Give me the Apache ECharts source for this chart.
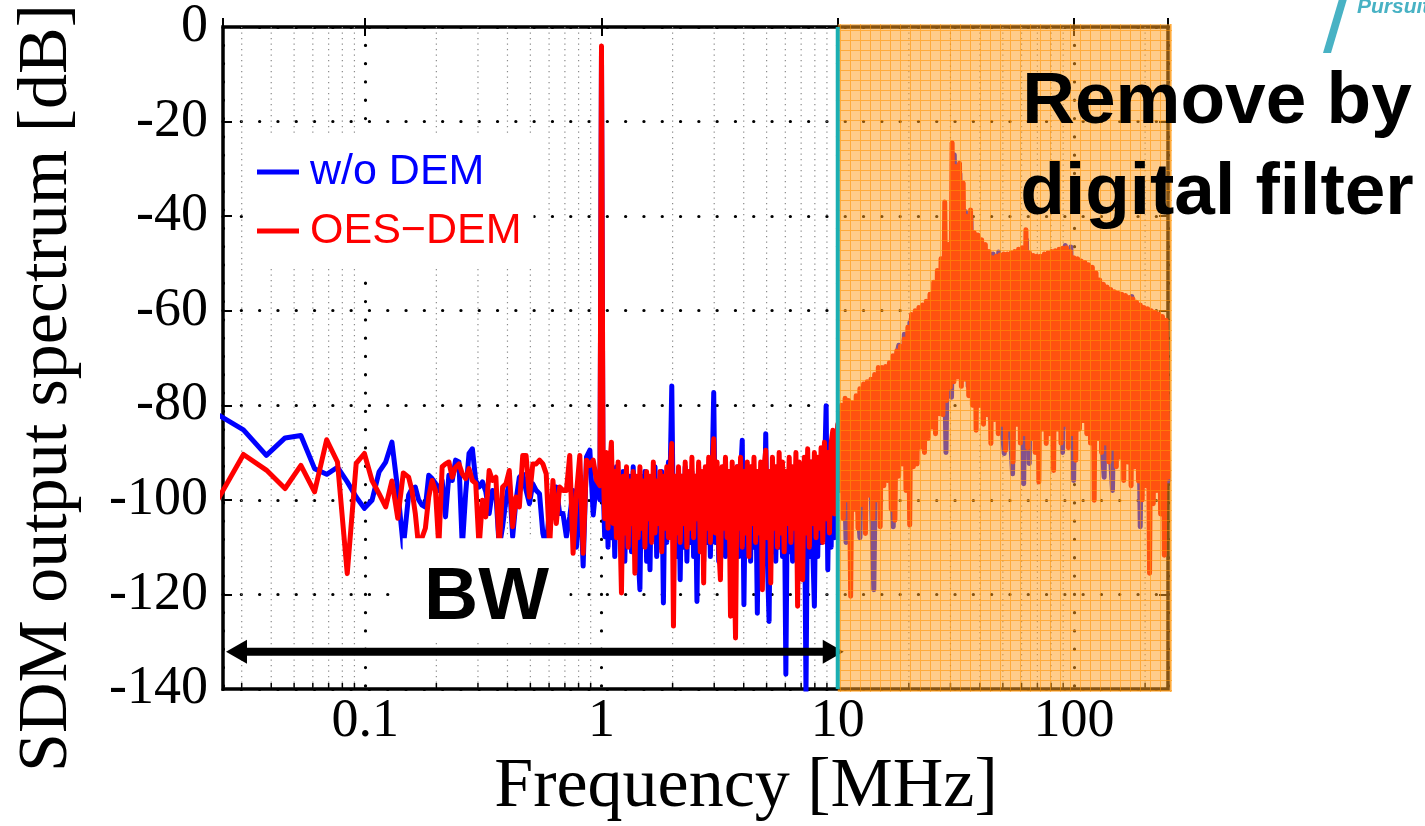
<!DOCTYPE html>
<html>
<head>
<meta charset="utf-8">
<script src="https://cdn.jsdelivr.net/npm/echarts@6/dist/echarts.min.js"></script>
<style>
html, body { margin: 0; padding: 0; background: #fff; }
#chart { width: 1425px; height: 826px; }
</style>
</head>
<body>
<div id="chart"></div>
<script>
// ---- spectrum data (dB), 500 MS/s sampling, 65536-point FFT ----
const binWidth = 500 / 65536;          // MHz per FFT bin
const firstBin = 3;

// individual low-frequency bins k = 3 .. 19
const lowBlue = [-81.5, -85.2, -90.6, -86.9, -86.4, -93.4, -94.6, -93.1, -96.2, -99.4, -101.8, -100.1, -94.1, -92.0, -87.8, -98.0, -110.0];
const lowRed  = [-101.4, -90.4, -93.7, -97.6, -92.7, -98.3, -87.3, -92.0, -115.6, -92.3, -90.2, -95.9, -98.7, -101.5, -96.0, -103.9, -94.3];

// 0.15 .. 0.985 MHz (log-spaced readout)
const midRange = [20 * binWidth, 0.985];
const midBlue = [-99, -97.6, -97.3, -100, -101.1, -101.5, -94.8, -95.5, -96.5, -98.0,
  -95.9, -103.6, -94.8, -95.9, -91.6, -92.0, -110, -98.7, -90.2, -89.2,
  -95.9, -97.3, -96.2, -98.3, -102.9, -98.0, -98.7, -110, -105.7, -100.1,
  -95.9, -107.8, -100.1, -95.2, -94.5, -98.0, -100.8, -96.6, -98.0, -98.7,
  -107.1, -110, -101.5, -102.9, -97.3, -102.9, -102.9, -107.8, -103.6, -98.0,
  -110, -95.9, -114, -90.9, -89.5, -103.2, -95.9, -100];
const midRed = [-95.2, -98.0, -102.9, -110, -108, -106, -99.4, -95.9, -98.0, -110,
  -93.0, -92.4, -92.0, -95.2, -93.1, -92.4, -94.5, -95.5, -93.4, -95.9,
  -96.5, -110, -100.1, -103.6, -93.8, -95.9, -95.2, -110, -97.3, -96.6,
  -93.8, -105.7, -99.4, -101.5, -90.6, -90.6, -99.4, -92.4, -92.4, -91.6,
  -92.4, -94.5, -110, -95.9, -105.0, -97.3, -98.0, -98.0, -90.6, -111.3,
  -98.7, -90.6, -111.3, -91.6, -92.7, -91.6, -95.9, -97];

// 1 MHz input tone
const toneFreq = 1.0;
const toneBlue = -5;
const toneRed = -4;

// in-band noise, 1.015 .. 9.85 MHz (log-spaced readout)
const bandRange = [1.015, 9.85];
const bandBlue = [
  -96, -107.8, -94, -110, -92, -108, -95, -112, -93, -106,
  -96, -110, -94, -113, -97, -108, -95, -111, -93, -109,
  -96, -112, -119, -95, -109, -94, -113, -97, -114.8, -95,
  -108, -93, -112, -96, -110, -94, -121.8, -95, -109, -92,
  -95, -75.9, -108, -96, -112, -94, -116.9, -95, -110, -93,
  -113, -96, -109, -94, -112, -95, -121.5, -93, -110, -96,
  -113, -94, -109, -95, -112, -95, -77.3, -109, -94, -113,
  -96, -110, -93, -112, -95, -109, -94, -113, -96, -110,
  -93, -112, -95, -87.4, -122.2, -94, -111, -96, -113, -93,
  -110, -95, -124, -94, -112, -96, -110, -86.0, -113, -125.7,
  -94, -111, -95, -113, -93, -110, -96, -112, -94, -136.9,
  -95, -111, -93, -113, -96, -110, -94, -112, -95, -111,
  -93, -141, -94, -112, -92, -110, -122.5, -93, -112, -91,
  -109, -92, -95, -80.1, -114.8, -90, -110, -89, -108, -86];
const bandRed = [
  -91, -104, -90, -106, -93, -87.8, -105, -94, -108, -92,
  -104, -119.7, -95, -107, -93, -110, -96, -105, -94, -115.5,
  -95, -108, -93, -106, -96, -110, -94, -104, -95, -109,
  -92, -107, -96, -105, -94, -111, -95, -106, -93, -108,
  -94, -88.1, -126.7, -95, -107, -93, -109, -95, -105, -92,
  -110, -94, -106, -91, -108, -95, -104, -92, -111, -94,
  -117.6, -93, -106, -91, -109, -94, -87.1, -107, -92, -110,
  -116.9, -93, -106, -91, -108, -94, -124.6, -92, -109, -129.2,
  -93, -106, -91, -110, -94, -107, -92, -112, -93, -105,
  -91, -109, -94, -107, -92, -119, -93, -89.5, -108, -94,
  -117.6, -91, -106, -93, -110, -90, -107, -92, -111, -94,
  -105, -91, -109, -93, -106, -90, -122.5, -92, -108, -116.9,
  -91, -107, -89.2, -110, -92, -105, -90, -108, -91, -106,
  -89, -109, -87.8, -104, -90, -107, -88, -85.3, -103, -89];

// out-of-band shaped noise, 10 .. 250 MHz (log-spaced readout)
const outRange = [10.0, 250];
const outBlue = [
  -86, -97, -81, -109, -81, -100, -81, -99, -108, -77,
  -98, -77, -97, -119, -75, -96, -73.5, -94, -73, -93,
  -105.7, -70, -67.3, -90, -65, -94, -62.5, -90, -61, -88,
  -60.5, -86, -59.5, -84, -57.5, -82, -53, -79, -50, -90,
  -47, -78.3, -27, -73, -31, -73, -39, -76, -40.5, -78,
  -45.5, -79, -46.5, -80, -48.5, -83, -48, -82, -47.6, -83,
  -90.2, -49.5, -84, -94.5, -49, -83, -48.5, -96.6, -45, -92.3,
  -50, -85, -50, -84, -49.5, -85, -49.3, -84, -49, -84,
  -48.5, -90, -46.2, -85, -46.5, -95.9, -50, -84, -51, -82,
  -51.5, -85, -52.5, -86, -54.5, -87, -95.2, -56.5, -88, -98,
  -57.5, -90, -58, -91, -58.3, -92, -57, -93, -59.5, -105.7,
  -60.5, -95, -61, -96, -61.5, -97, -62, -98, -63, -96];
const outRed = [
  -84, -98, -80, -104, -78.5, -100, -79, -120.4, -79.5, -102,
  -78, -106, -76.5, -101, -75.5, -107.1, -75, -99, -74.5, -104,
  -73.5, -100, -72, -105.7, -72, -97, -71.8, -95.9, -71, -102,
  -69.5, -104.3, -68.5, -95, -67.5, -92.4, -66, -98, -63.5, -105.3,
  -60.8, -93, -60, -92.4, -59.3, -88.8, -58.8, -90, -58, -87,
  -56.5, -84.6, -54, -86, -51.5, -81.8, -49, -82, -37, -79,
  -46, -76.2, -24.5, -75, -29.5, -74, -28.8, -76, -33, -74.5,
  -40, -78, -38.7, -80, -43.5, -85.3, -44, -80, -45, -84,
  -46, -82, -47.5, -88.1, -48.8, -83, -48.5, -86, -48.2, -84,
  -48, -89.5, -48, -85, -47.8, -92, -47.5, -84, -47, -88,
  -46.7, -86, -42.9, -89, -47.8, -87, -48.3, -90, -48.5, -96.2,
  -48.5, -85, -48, -88.1, -47.8, -86, -47.5, -93.8, -47.3, -85,
  -47, -88, -46.8, -84, -46.7, -89, -47.5, -86, -48.8, -91.6,
  -49, -85, -49.5, -83.2, -49.8, -86, -50.3, -88, -50.8, -100.1,
  -52, -87, -53.5, -90, -54.4, -88, -55, -92, -55.5, -89,
  -56, -93, -56.3, -91, -56.5, -95.9, -56.8, -92, -57.2, -97,
  -57.5, -93, -58.2, -96, -58.8, -100, -59.3, -97, -59.6, -115.5,
  -60, -100.8, -60.3, -98, -60.7, -103, -61.2, -111.7, -62, -95.2];

// ---- axes ----
const xMin = 0.025, xMax = 250;
const yMin = -140, yMax = 0, yStep = 20;
const decadeFreqs = [0.1, 1, 10, 100];
const decadeLabels = ['0.1', '1', '10', '100'];
const minorFreqs = [0.03, 0.04, 0.05, 0.06, 0.07, 0.08, 0.09,
  0.2, 0.3, 0.4, 0.5, 0.6, 0.7, 0.8, 0.9,
  2, 3, 4, 5, 6, 7, 8, 9,
  20, 30, 40, 50, 60, 70, 80, 90, 200];

// ---- annotations ----
const seriesNames = ['w/o DEM', 'OES\u2212DEM'];
const seriesColors = ['#0000FF', '#FF0000'];
const bandEdge = 10;           // signal band edge / digital filter edge (MHz)
const arrowLevel = -132.1;     // dB level of the BW arrow
const bwLabel = { text: 'BW', freq: 0.326, level: -120.8 };
const bwBox = { f0: 0.144, f1: 0.732, top: -108.1, bottom: -129.5 };

const serif = '"Liberation Serif", "Times New Roman", serif';
const sans = '"Liberation Sans", Arial, sans-serif';

function logGrid(range, n) {
  const a = Math.log10(range[0]), b = Math.log10(range[1]);
  const out = [];
  for (let i = 0; i < n; i++) out.push(Math.pow(10, a + (b - a) * i / (n - 1)));
  return out;
}
function pairs(freqs, vals) { return vals.map((v, i) => [freqs[i], v]); }

const lowFreqs = lowBlue.map((_, i) => (firstBin + i) * binWidth);
const midFreqs = logGrid(midRange, midBlue.length);
const bandFreqs = logGrid(bandRange, bandBlue.length);

const blueData = [].concat(
  pairs(lowFreqs, lowBlue), pairs(midFreqs, midBlue), [[toneFreq, toneBlue]],
  pairs(bandFreqs, bandBlue), pairs(logGrid(outRange, outBlue.length), outBlue));
const redData = [].concat(
  pairs(lowFreqs, lowRed), pairs(midFreqs, midRed), [[toneFreq, toneRed]],
  pairs(bandFreqs, bandRed), pairs(logGrid(outRange, outRed.length), outRed));

function decadeLabel(v) {
  for (let i = 0; i < decadeFreqs.length; i++) {
    if (Math.abs(Math.log10(v / decadeFreqs[i])) < 1e-6) return decadeLabels[i];
  }
  return '';
}

// hatched orange tint for the filtered band
const tile = document.createElement('canvas');
tile.width = 10; tile.height = 10;
const tc = tile.getContext('2d');
tc.fillStyle = 'rgba(255,158,30,0.52)';
tc.fillRect(0, 0, 10, 10);
tc.clearRect(0, 0, 10, 1);
tc.clearRect(0, 1, 1, 9);
tc.fillStyle = 'rgba(255,150,10,0.8)';
tc.fillRect(0, 0, 10, 1);
tc.fillRect(0, 1, 1, 9);

const chart = echarts.init(document.getElementById('chart'), null, { renderer: 'canvas' });

const dotted = { color: '#000', width: 3.2, type: [0.1, 18.2], cap: 'round' };
const innerTick = { inside: true, length: 9, lineStyle: { color: '#000', width: 2 } };

chart.setOption({
  animation: false,
  backgroundColor: '#fff',
  grid: { left: 223, top: 25, width: 945, height: 664, show: true,
          borderColor: '#000', borderWidth: 3.5, backgroundColor: 'transparent' },
  xAxis: [
    { type: 'log', logBase: 10, min: xMin, max: xMax, position: 'bottom',
      axisLine: { show: false }, axisTick: innerTick,
      axisLabel: { formatter: decadeLabel, fontFamily: serif, fontSize: 54, color: '#000', margin: 6 },
      splitLine: { show: true, lineStyle: dotted } },
    { type: 'log', logBase: 10, min: xMin, max: xMax, position: 'top',
      axisLine: { show: false }, axisTick: innerTick,
      axisLabel: { show: false }, splitLine: { show: false } }
  ],
  yAxis: [
    { type: 'value', min: yMin, max: yMax, interval: yStep,
      axisLine: { show: false }, axisTick: innerTick,
      axisLabel: { fontFamily: serif, fontSize: 54, color: '#000', margin: 15 },
      splitLine: { show: true, lineStyle: dotted } },
    { type: 'value', min: yMin, max: yMax, interval: yStep, position: 'right',
      axisLine: { show: false }, axisTick: innerTick,
      axisLabel: { show: false }, splitLine: { show: false } }
  ],
  legend: {
    left: 250, top: 133, orient: 'vertical', selectedMode: false,
    backgroundColor: '#fff', padding: [14, 12, 12, 7], itemGap: 9,
    itemWidth: 42, itemHeight: 5, icon: 'rect',
    textStyle: { fontFamily: sans, fontSize: 43, lineHeight: 50, padding: [0, 0, 0, 6] },
    data: seriesNames.map((n, i) => ({ name: n, textStyle: { color: seriesColors[i] } }))
  },
  series: [
    { // minor log grid and minor ticks
      type: 'custom', name: 'minor', silent: true, z: 1,
      data: minorFreqs.map(f => [f, yMin]),
      renderItem: function (params, api) {
        const f = api.value(0);
        const top = api.coord([f, yMax]);
        const bot = api.coord([f, yMin]);
        return { type: 'group', children: [
          { type: 'line', shape: { x1: top[0], y1: top[1], x2: bot[0], y2: bot[1] },
            style: { stroke: '#8a8a8a', lineWidth: 1.2, lineDash: [1.2, 4.3] } },
          { type: 'line', shape: { x1: bot[0], y1: bot[1], x2: bot[0], y2: bot[1] - 6 },
            style: { stroke: '#000', lineWidth: 1.5 } }
        ] };
      }
    },
    { type: 'line', name: seriesNames[0], data: blueData, showSymbol: false, symbol: 'none',
      clip: true, silent: true, z: 2, color: seriesColors[0],
      lineStyle: { color: seriesColors[0], width: 5, join: 'round', cap: 'round' } },
    { type: 'line', name: seriesNames[1], data: redData, showSymbol: false, symbol: 'none',
      clip: true, silent: true, z: 3, color: seriesColors[1],
      lineStyle: { color: seriesColors[1], width: 5, join: 'round', cap: 'round' } }
  ]
});

// ---- overlays placed through the axis scales ----
const P = (f, d) => chart.convertToPixel({ xAxisIndex: 0, yAxisIndex: 0 }, [f, d]);
const edgeTop = P(bandEdge, yMax);
const farBottom = P(xMax, yMin);
const leftEdge = P(xMin, arrowLevel);
const arrowY = leftEdge[1];
const arrowL = leftEdge[0] + 3;
const arrowR = edgeTop[0] + 6;
const head = 21, halfHead = 12;
const boxA = P(bwBox.f0, bwBox.top);
const boxB = P(bwBox.f1, bwBox.bottom);
const bwPos = P(bwLabel.freq, bwLabel.level);

chart.setOption({
  graphic: [
    { type: 'rect', z: 5, silent: true,
      shape: { x: boxA[0], y: boxA[1], width: boxB[0] - boxA[0], height: boxB[1] - boxA[1] },
      style: { fill: '#fff' } },
    { type: 'text', z: 6, silent: true, x: bwPos[0], y: bwPos[1],
      style: { text: bwLabel.text, font: 'bold 75px ' + sans, fill: '#000', align: 'center', verticalAlign: 'middle' } },
    { type: 'line', z: 20, silent: true,
      shape: { x1: arrowL + head - 2, y1: arrowY, x2: arrowR - head + 2, y2: arrowY },
      style: { stroke: '#000', lineWidth: 8 } },
    { type: 'polygon', z: 20, silent: true,
      shape: { points: [[arrowL, arrowY], [arrowL + head, arrowY - halfHead], [arrowL + head, arrowY + halfHead]] },
      style: { fill: '#000' } },
    { type: 'polygon', z: 20, silent: true,
      shape: { points: [[arrowR, arrowY], [arrowR - head, arrowY - halfHead], [arrowR - head, arrowY + halfHead]] },
      style: { fill: '#000' } },
    { type: 'rect', z: 50, silent: true,
      shape: { x: edgeTop[0], y: edgeTop[1] - 3, width: farBottom[0] - edgeTop[0] + 4, height: farBottom[1] - edgeTop[1] + 6 },
      style: { fill: { image: tile, repeat: 'repeat' } } },
    { type: 'line', z: 52, silent: true,
      shape: { x1: edgeTop[0], y1: edgeTop[1], x2: edgeTop[0], y2: farBottom[1] },
      style: { stroke: '#1AAFB2', lineWidth: 4 } },
    { type: 'text', z: 60, silent: true, x: 1217, y: 103,
      style: { text: 'Remove by', font: 'bold 73px ' + sans, fill: '#000', align: 'center', verticalAlign: 'middle' } },
    { type: 'text', z: 60, silent: true, x: 1217, y: 194,
      style: { text: 'digital filter', font: 'bold 73px ' + sans, fill: '#000', align: 'center', verticalAlign: 'middle' } },
    { type: 'text', z: 60, silent: true, x: 746, y: 788,
      style: { text: 'Frequency [MHz]', font: '70px ' + serif, fill: '#000', align: 'center', verticalAlign: 'middle' } },
    { type: 'text', z: 60, silent: true, x: 48, y: 388, rotation: Math.PI / 2,
      style: { text: 'SDM output spectrum [dB]', font: '70px ' + serif, fill: '#000', align: 'center', verticalAlign: 'middle' } },
    { type: 'polygon', z: 60, silent: true,
      shape: { points: [[1323, 53], [1331, 53], [1347, -1], [1339, -1]] },
      style: { fill: '#48B2C4' } },
    { type: 'text', z: 60, silent: true, x: 1357, y: 18,
      style: { text: 'Pursuit', font: 'italic bold 21px ' + sans, fill: '#48B2C4', align: 'left', verticalAlign: 'bottom' } }
  ]
});
</script>
</body>
</html>
